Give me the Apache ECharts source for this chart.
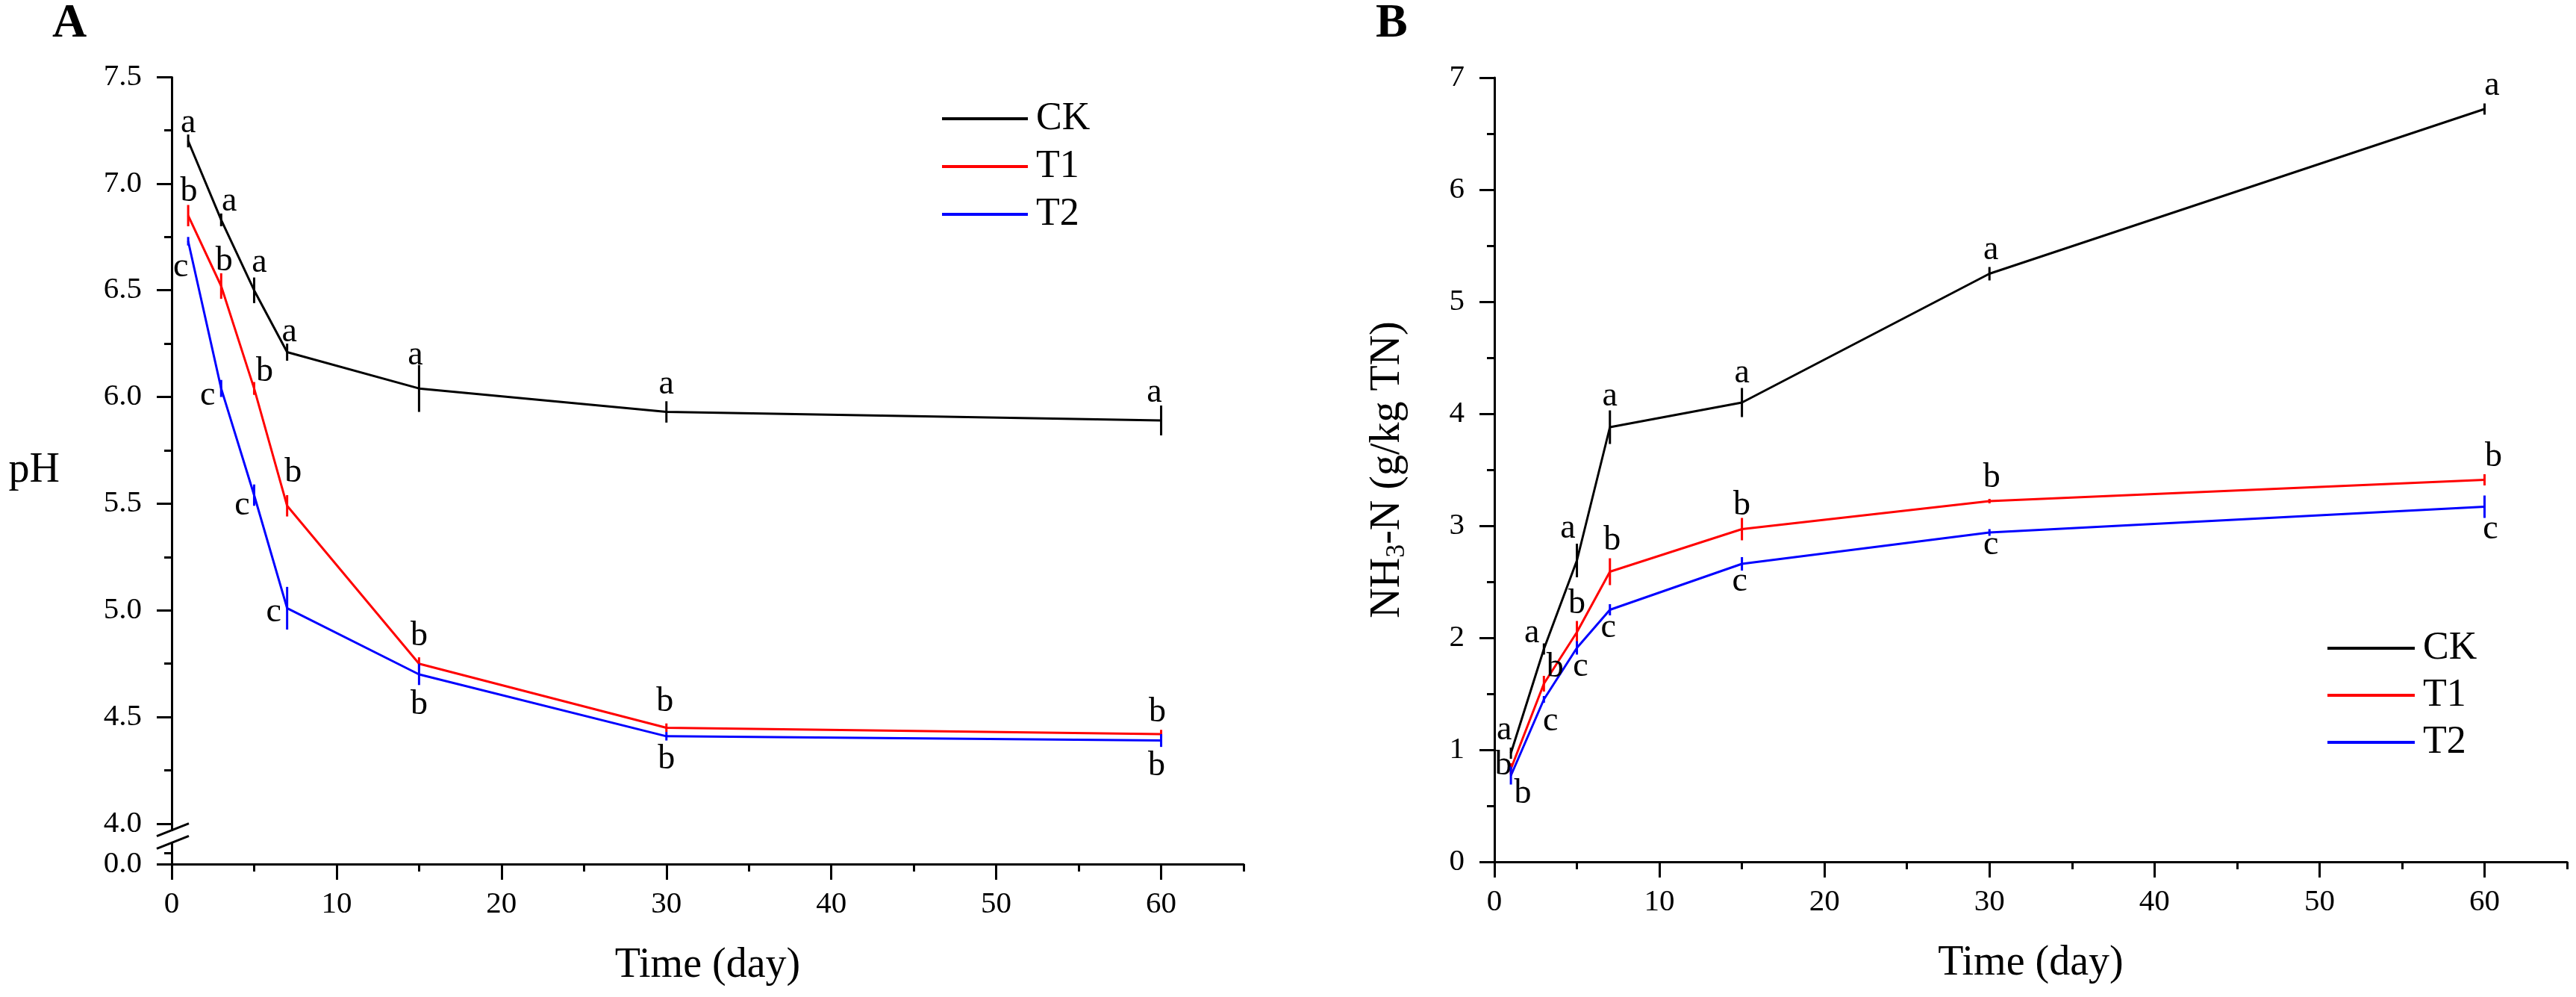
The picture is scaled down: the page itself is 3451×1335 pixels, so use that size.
<!DOCTYPE html>
<html>
<head>
<meta charset="utf-8">
<script src="https://cdn.jsdelivr.net/npm/echarts@6/dist/echarts.min.js"></script>
<style>
  html, body { margin: 0; padding: 0; background: #fff; }
  #main { width: 3451px; height: 1335px; }
</style>
</head>
<body>
<div id="main"></div>
<script>
// sampling days
var days = [1, 3, 5, 7, 15, 30, 60];
var names = ['CK', 'T1', 'T2'];

// A: pH
var phCK = [7.20, 6.83, 6.50, 6.21, 6.04, 5.93, 5.89];
var phT1 = [6.85, 6.52, 6.04, 5.49, 4.75, 4.45, 4.42];
var phT2 = [6.73, 6.04, 5.54, 5.01, 4.70, 4.41, 4.39];
var phCKErr = [0.03, 0.03, 0.06, 0.04, 0.11, 0.05, 0.07];
var phT1Err = [0.05, 0.06, 0.03, 0.05, 0.03, 0.02, 0.02];
var phT2Err = [0.02, 0.04, 0.05, 0.10, 0.05, 0.02, 0.03];
var phCKSig = ['a', 'a', 'a', 'a', 'a', 'a', 'a'];
var phT1Sig = ['b', 'b', 'b', 'b', 'b', 'b', 'b'];
var phT2Sig = ['c', 'c', 'c', 'c', 'b', 'b', 'b'];

// B: NH3-N (g/kg TN)
var nhCK = [0.97, 1.90, 2.69, 3.88, 4.10, 5.25, 6.72];
var nhT1 = [0.83, 1.59, 2.05, 2.59, 2.97, 3.22, 3.41];
var nhT2 = [0.77, 1.45, 1.91, 2.25, 2.66, 2.94, 3.17];
var nhCKErr = [0.05, 0.05, 0.15, 0.15, 0.13, 0.06, 0.05];
var nhT1Err = [0.05, 0.07, 0.10, 0.12, 0.10, 0.02, 0.05];
var nhT2Err = [0.08, 0.03, 0.06, 0.05, 0.06, 0.03, 0.10];
var nhCKSig = ['a', 'a', 'a', 'a', 'a', 'a', 'a'];
var nhT1Sig = ['b', 'b', 'b', 'b', 'b', 'b', 'b'];
var nhT2Sig = ['b', 'c', 'c', 'c', 'c', 'c', 'c'];

// tick values
var xMajor = [0, 10, 20, 30, 40, 50, 60];
var xMinor = [5, 15, 25, 35, 45, 55, 65];
var phMajor = [0, 4.0, 4.5, 5.0, 5.5, 6.0, 6.5, 7.0, 7.5];
var phMinor = [0.05, 4.25, 4.75, 5.25, 5.75, 6.25, 6.75, 7.25];

// where each letter sits relative to its point (px)
var offA = {
  CK: [[0, -24], [11, -25], [7, -37], [3, -27], [-5, -44], [0, -37], [-9, -37]],
  T1: [[1, -32], [4, -33], [14, -22], [8, -44], [0, -37], [-2, -35], [-5, -29]],
  T2: [[-10, 35], [-18, 10], [-16, 14], [-18, 5], [0, 41], [0, 31], [-6, 34]]
};
var offB = {
  CK: [[-9, -31], [-16, -21], [-12, -43], [0, -41], [0, -39], [2, -32], [10, -31]],
  T1: [[-10, -5], [15, -22], [0, -38], [3, -42], [0, -32], [3, -31], [12, -31]],
  T2: [[16, 24], [9, 29], [5, 25], [-2, 24], [-3, 24], [2, 17], [8, 30]]
};

var colors = { CK: '#000000', T1: '#ff0000', T2: '#0000ff' };
var font = '"Liberation Serif", "Times New Roman", serif';
var phBreak = [{ start: 0.1, end: 3.97, gap: '1.6%' }];

function pairs(vals) {
  return days.map(function (d, i) { return [d, vals[i]]; });
}

function lineSeries(name, xi, yi, vals) {
  return {
    type: 'line', name: name, xAxisIndex: xi, yAxisIndex: yi,
    data: pairs(vals), symbol: 'none', z: 4,
    lineStyle: { color: colors[name], width: 3 },
    itemStyle: { color: colors[name] }
  };
}

// error bars and significance letters
function markSeries(name, xi, yi, vals, errs, sig, offs) {
  var data = days.map(function (d, i) { return [d, vals[i], errs[i], i]; });
  return {
    type: 'custom', name: name + '_err', xAxisIndex: xi, yAxisIndex: yi,
    data: data, encode: { x: 0, y: 1 }, z: 5, silent: true,
    renderItem: function (params, api) {
      var x = api.value(0), y = api.value(1), e = api.value(2), i = api.value(3);
      var t = api.coord([x, y + e]);
      var b = api.coord([x, y - e]);
      var p = api.coord([x, y]);
      return {
        type: 'group',
        children: [{
          type: 'line',
          shape: { x1: t[0], y1: t[1], x2: b[0], y2: b[1] },
          style: { stroke: colors[name], lineWidth: 3 }
        }, {
          type: 'text',
          x: p[0] + offs[i][0], y: p[1] + offs[i][1],
          style: {
            text: sig[i], fill: '#000', fontFamily: font, fontSize: 46,
            align: 'center', verticalAlign: 'middle'
          }
        }]
      };
    }
  };
}

function mainX(gridIndex) {
  return {
    type: 'value', gridIndex: gridIndex, min: 0, max: 65,
    name: 'Time (day)', nameLocation: 'middle', nameGap: 108,
    nameTextStyle: { fontFamily: font, fontSize: 56, color: '#000' },
    axisLine: { lineStyle: { color: '#000', width: 3 } },
    axisTick: { customValues: xMajor, length: 21, lineStyle: { width: 3, color: '#000' } },
    axisLabel: { customValues: xMajor, margin: 34, fontFamily: font, fontSize: 41, color: '#000' },
    splitLine: { show: false }
  };
}

function minorX(gridIndex) {
  return {
    type: 'value', gridIndex: gridIndex, min: 0, max: 65, position: 'bottom',
    axisLine: { show: false },
    axisTick: { customValues: xMinor, length: 10, lineStyle: { width: 3, color: '#000' } },
    axisLabel: { show: false },
    splitLine: { show: false }
  };
}

var chart = echarts.init(document.getElementById('main'));

var option = {
  backgroundColor: '#fff',
  animation: false,
  title: [
    { text: 'A', left: 70, top: 0, padding: 0,
      textStyle: { fontFamily: font, fontSize: 64, fontWeight: 'bold', color: '#000' } },
    { text: 'B', left: 1843, top: 0, padding: 0,
      textStyle: { fontFamily: font, fontSize: 64, fontWeight: 'bold', color: '#000' } }
  ],
  grid: [
    { left: 230, right: 1785, top: 103, bottom: 178 },
    { left: 2002, right: 12, top: 104, bottom: 181 }
  ],
  legend: [
    { data: names, orient: 'vertical', left: 1262, top: 133, icon: 'rect',
      itemWidth: 115, itemHeight: 4, itemGap: 12, padding: 0,
      textStyle: { fontFamily: font, fontSize: 52, color: '#000', padding: [0, 0, 0, 6] } },
    { data: names, orient: 'vertical', left: 3118, top: 842, icon: 'rect',
      itemWidth: 117, itemHeight: 4, itemGap: 11, padding: 0,
      textStyle: { fontFamily: font, fontSize: 52, color: '#000', padding: [0, 0, 0, 6] } }
  ],
  xAxis: [mainX(0), minorX(0), mainX(1), minorX(1)],
  yAxis: [{
    type: 'value', gridIndex: 0, min: 0, max: 7.5, interval: 0.5,
    breaks: phBreak,
    breakArea: { show: false },
    name: 'pH', nameLocation: 'middle', nameRotate: 0, nameGap: 150,
    nameTextStyle: { fontFamily: font, fontSize: 56, color: '#000' },
    axisLine: { show: true, lineStyle: { color: '#000', width: 3 } },
    axisTick: { show: true, customValues: phMajor, length: 20, lineStyle: { width: 3, color: '#000' } },
    axisLabel: {
      customValues: phMajor, margin: 40, fontFamily: font, fontSize: 41, color: '#000',
      formatter: function (v) { return v.toFixed(1); }
    },
    splitLine: { show: false }
  }, {
    type: 'value', gridIndex: 1, min: 0, max: 7, interval: 1,
    name: 'NH{sub|3}-N (g/kg TN)', nameLocation: 'middle', nameRotate: 90, nameGap: 112,
    nameTextStyle: {
      fontFamily: font, fontSize: 56, color: '#000',
      rich: { sub: { fontFamily: font, fontSize: 36, padding: [26, 0, 0, 0], color: '#000' } }
    },
    axisLine: { show: true, lineStyle: { color: '#000', width: 3 } },
    axisTick: { show: true, length: 20, lineStyle: { width: 3, color: '#000' } },
    minorTick: { show: true, splitNumber: 2, length: 10, lineStyle: { width: 3, color: '#000' } },
    axisLabel: { margin: 40, fontFamily: font, fontSize: 41, color: '#000' },
    splitLine: { show: false }, minorSplitLine: { show: false }
  }, {
    // minor ticks for the pH axis
    type: 'value', gridIndex: 0, min: 0, max: 7.5, position: 'left',
    breaks: phBreak,
    breakArea: { show: false },
    axisLine: { show: false },
    axisTick: { show: true, customValues: phMinor, length: 10, lineStyle: { width: 3, color: '#000' } },
    axisLabel: { show: false },
    splitLine: { show: false }
  }],
  series: [
    lineSeries('CK', 0, 0, phCK),
    lineSeries('T1', 0, 0, phT1),
    lineSeries('T2', 0, 0, phT2),
    markSeries('CK', 0, 0, phCK, phCKErr, phCKSig, offA.CK),
    markSeries('T1', 0, 0, phT1, phT1Err, phT1Sig, offA.T1),
    markSeries('T2', 0, 0, phT2, phT2Err, phT2Sig, offA.T2),
    lineSeries('CK', 2, 1, nhCK),
    lineSeries('T1', 2, 1, nhT1),
    lineSeries('T2', 2, 1, nhT2),
    markSeries('CK', 2, 1, nhCK, nhCKErr, nhCKSig, offB.CK),
    markSeries('T1', 2, 1, nhT1, nhT1Err, nhT1Sig, offB.T1),
    markSeries('T2', 2, 1, nhT2, nhT2Err, nhT2Sig, offB.T2)
  ]
};

chart.setOption(option);

// axis break marks on the pH axis
var lo = chart.convertToPixel({ gridIndex: 0 }, [0, 0.1]);
var hi = chart.convertToPixel({ gridIndex: 0 }, [0, 3.97]);
if (lo && hi) {
  var ax = lo[0];
  chart.setOption({
    graphic: [
      { type: 'rect', shape: { x: ax - 3, y: hi[1] + 2, width: 6, height: lo[1] - hi[1] - 4 },
        style: { fill: '#fff' }, z: 100 },
      { type: 'line', shape: { x1: ax - 20, y1: hi[1] + 8, x2: ax + 23, y2: hi[1] - 9 },
        style: { stroke: '#000', lineWidth: 3 }, z: 101 },
      { type: 'line', shape: { x1: ax - 20, y1: lo[1] + 8, x2: ax + 23, y2: lo[1] - 9 },
        style: { stroke: '#000', lineWidth: 3 }, z: 101 }
    ]
  });
}
</script>
</body>
</html>
